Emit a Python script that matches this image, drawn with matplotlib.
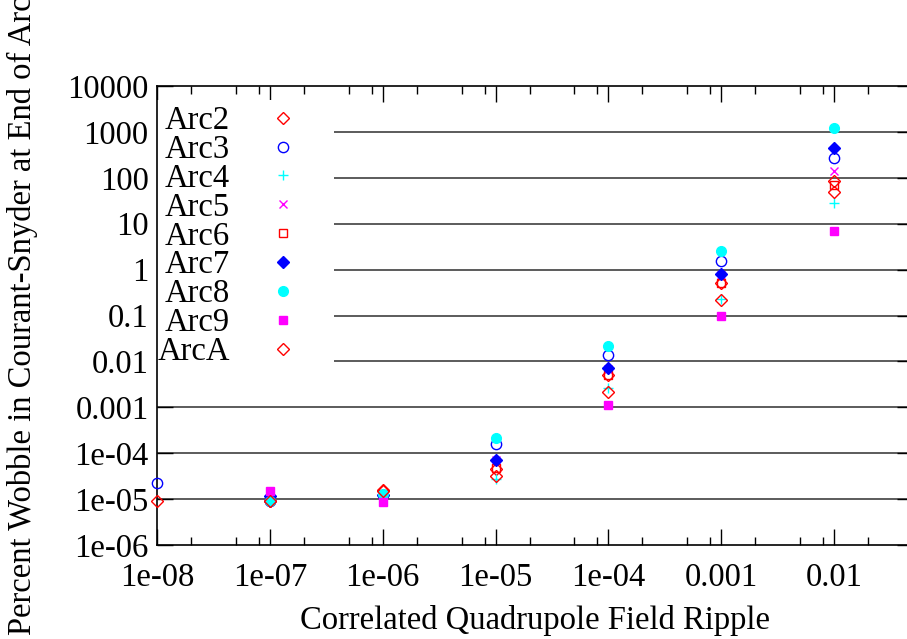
#!/usr/bin/env python
"""Percent wobble vs correlated quadrupole field ripple, one marker series per arc."""

import matplotlib

matplotlib.use("Agg")
import matplotlib.pyplot as plt
import numpy as np
from matplotlib.ticker import FixedLocator, FixedFormatter, LogLocator, NullLocator

nan = np.nan

ripple = [1e-8, 1e-7, 1e-6, 1e-5, 1e-4, 1e-3, 1e-2]

arc2 = [8.9e-6, 9.0e-6, 1.55e-5, 4.5e-5, 5.0e-3, 0.50, 85.0]
arc3 = [2.2e-5, 8.9e-6, 1.2e-5, 1.55e-4, 0.0136, 1.57, 265.0]
arc4 = [nan, 1.0e-5, 1.2e-5, 2.7e-5, 2.6e-3, 0.23, 28.5]
arc5 = [nan, 1.0e-5, 1.2e-5, 7.2e-5, 7.0e-3, 0.76, 138.0]
arc6 = [nan, 9.5e-6, 1.3e-5, 4.8e-5, 5.0e-3, 0.51, 68.0]
arc7 = [nan, 1.15e-5, 1.2e-5, 7.0e-5, 7.2e-3, 0.81, 446.0]
arc8 = [nan, 9.2e-6, 1.3e-5, 2.1e-4, 0.0213, 2.5, 1220.0]
arc9 = [nan, 1.5e-5, 8.7e-6, nan, 1.1e-3, 0.10, 6.8]
arcA = [nan, 9.0e-6, 1.5e-5, 3.2e-5, 2.2e-3, 0.22, 49.0]

series_names = ["Arc2", "Arc3", "Arc4", "Arc5", "Arc6", "Arc7", "Arc8", "Arc9", "ArcA"]
series_values = [arc2, arc3, arc4, arc5, arc6, arc7, arc8, arc9, arcA]

x_ticks = [1e-8, 1e-7, 1e-6, 1e-5, 1e-4, 1e-3, 1e-2]
x_tick_labels = ["1e-08", "1e-07", "1e-06", "1e-05", "1e-04", "0.001", "0.01"]
y_ticks = [1e-6, 1e-5, 1e-4, 1e-3, 1e-2, 1e-1, 1, 10, 100, 1000, 10000]
y_tick_labels = ["1e-06", "1e-05", "1e-04", "0.001", "0.01", "0.1", "1", "10", "100", "1000", "10000"]

RED, BLUE, CYAN, MAGENTA = "#ff0000", "#0000ff", "#00ffff", "#ff00ff"
styles = [
    dict(marker="D", ms=5.8, mfc="none", mec=RED),
    dict(marker="o", ms=7.4, mfc="none", mec=BLUE),
    dict(marker="+", ms=7.4, mec=CYAN),
    dict(marker="x", ms=5.6, mec=MAGENTA),
    dict(marker="s", ms=6.0, mfc="none", mec=RED),
    dict(marker="D", ms=5.8, mfc=BLUE, mec=BLUE),
    dict(marker="o", ms=7.0, mfc=CYAN, mec=CYAN),
    dict(marker="s", ms=6.0, mfc=MAGENTA, mec=MAGENTA),
    dict(marker="D", ms=5.8, mfc="none", mec=RED),
]

FS = 23.5
plt.rcParams["font.family"] = ["Liberation Serif", "DejaVu Serif"]
plt.rcParams["font.size"] = FS

fig = plt.figure(figsize=(9.07, 6.39), dpi=100)
# right border falls just outside the picture, like the reference
ax = fig.add_axes([157 / 907, 94 / 639, 756 / 907, 459 / 639])

for name, vals, st in zip(series_names, series_values, styles):
    ax.plot(ripple, vals, linestyle="none", mew=1.0, label=name, clip_on=False, zorder=3, **st)

ax.set_xscale("log")
ax.set_yscale("log")
ax.set_xlim(1e-8, 5e-2)
ax.set_ylim(1e-6, 1e4)

ax.xaxis.set_major_locator(FixedLocator(x_ticks))
ax.xaxis.set_major_formatter(FixedFormatter(x_tick_labels))
ax.xaxis.set_minor_locator(LogLocator(base=10, subs=[2, 5, 8], numticks=20))
ax.yaxis.set_major_locator(FixedLocator(y_ticks))
ax.yaxis.set_major_formatter(FixedFormatter(y_tick_labels))
ax.yaxis.set_minor_locator(NullLocator())

ax.tick_params(which="both", direction="in", top=True, right=True, width=1.0, colors="black")
ax.tick_params(which="major", length=11.5)
ax.tick_params(which="minor", length=5.8)
ax.tick_params(axis="x", which="major", pad=12.5)
ax.tick_params(axis="y", which="major", pad=6)
for sp in ax.spines.values():
    sp.set_linewidth(1.2)

# horizontal grid under the (opaque) key, ticks and border stay on top of it
for yt in y_ticks[1:-1]:
    ax.axhline(yt, color="0.25", linewidth=1.2, zorder=1)

ax.set_xlabel("Correlated Quadrupole Field Ripple", labelpad=9)
ax.set_ylabel("Percent Wobble in Courant-Snyder at End of Arc", labelpad=21)

leg = ax.legend(
    loc="upper left",
    bbox_to_anchor=(-0.007, 0.97),
    markerfirst=False,
    numpoints=1,
    handlelength=2.76,
    handletextpad=0.25,
    labelspacing=-0.05,
    borderpad=0.18,
    borderaxespad=0.0,
    frameon=True,
    fancybox=False,
    fontsize=FS,
)
leg.get_frame().set_facecolor("white")
leg.get_frame().set_edgecolor("none")
leg.get_frame().set_alpha(1.0)
leg.set_zorder(2)

fig.savefig("out.png", dpi=100)
